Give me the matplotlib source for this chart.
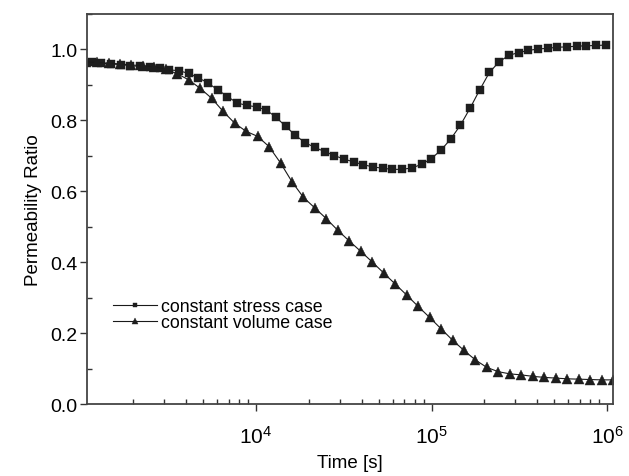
import matplotlib
matplotlib.use("Agg")
import matplotlib.pyplot as plt
from matplotlib.ticker import LogLocator, MultipleLocator, NullFormatter

plt.rcParams['font.family'] = ['Liberation Sans', 'DejaVu Sans']
plt.rcParams['mathtext.fontset'] = 'custom'
plt.rcParams['mathtext.rm'] = 'Liberation Sans'
plt.rcParams['mathtext.default'] = 'regular'

# constant stress case
stress_time = [1159, 1316, 1495, 1698, 1928, 2190, 2487, 2824, 3207, 3642,
               4137, 4698, 5335, 6059, 6881, 7815, 8875, 10079, 11447, 13000,
               14763, 16766, 19041, 21624, 24558, 27890, 31673, 35971, 40851, 46393,
               52687, 59835, 67953, 77172, 87642, 99532, 113035, 128370, 145786, 165565,
               188027, 213537, 242507, 275408, 312773, 355207, 403398, 458127, 520281, 590867,
               671030, 762068, 865457, 982874]
stress_ratio = [0.962, 0.960, 0.958, 0.956, 0.953, 0.951, 0.950, 0.946, 0.941, 0.939,
                0.931, 0.919, 0.904, 0.885, 0.866, 0.848, 0.841, 0.837, 0.828, 0.808,
                0.782, 0.757, 0.736, 0.723, 0.711, 0.700, 0.690, 0.682, 0.674, 0.668,
                0.664, 0.661, 0.661, 0.665, 0.675, 0.691, 0.715, 0.746, 0.785, 0.833,
                0.885, 0.934, 0.964, 0.982, 0.990, 0.996, 1.000, 1.002, 1.005, 1.006,
                1.008, 1.009, 1.010, 1.011]

# constant volume case
volume_time = [1071, 1244, 1446, 1681, 1953, 2271, 2638, 3067, 3565, 4143,
               4815, 5597, 6505, 7561, 8787, 10212, 11870, 13796, 16032, 18634,
               21658, 25170, 29256, 34003, 39521, 45933, 53386, 62050, 72111, 83813,
               97409, 113220, 131582, 152932, 177746, 206582, 240105, 279062, 324340, 376968,
               438126, 509215, 591831, 687864, 799465, 929195, 1079954]
volume_ratio = [0.964, 0.962, 0.960, 0.958, 0.955, 0.953, 0.950, 0.943, 0.930, 0.913,
                0.889, 0.861, 0.824, 0.791, 0.768, 0.754, 0.725, 0.679, 0.626, 0.582,
                0.552, 0.522, 0.489, 0.459, 0.430, 0.400, 0.369, 0.338, 0.307, 0.275,
                0.244, 0.212, 0.180, 0.151, 0.124, 0.103, 0.091, 0.085, 0.082, 0.078,
                0.075, 0.073, 0.071, 0.070, 0.069, 0.068, 0.068]

labels = ['constant stress case', 'constant volume case']
xticks = [1e4, 1e5, 1e6]
xticklabels = [r'$10^4$', r'$10^5$', r'$10^6$']
yticks = [0.0, 0.2, 0.4, 0.6, 0.8, 1.0]

fig = plt.figure(figsize=(6.29, 4.77), dpi=100)
ax = fig.add_axes([0.1383, 0.1509, 0.8363, 0.8187])

mc = '#1e1e1e'
ax.plot(stress_time, stress_ratio, color='#1a1a1a', lw=0.8, marker='s', ms=5.6,
        mfc=mc, mec=mc, mew=0.3, label=labels[0])
ax.plot(volume_time, volume_ratio, color='#1a1a1a', lw=0.8, marker='^', ms=7.2,
        mfc=mc, mec=mc, mew=0.3, label=labels[1])

ax.set_xscale('log')
ax.set_xlim(1.09e3, 1.08e6)
ax.set_ylim(0, 1.1)

ax.set_xticks(xticks)
ax.set_xticklabels(xticklabels)
ax.xaxis.set_minor_locator(LogLocator(base=10, subs=range(2, 10)))
ax.xaxis.set_minor_formatter(NullFormatter())
ax.set_yticks(yticks)
ax.set_yticklabels([f'{v:.1f}' for v in yticks])
ax.yaxis.set_minor_locator(MultipleLocator(0.1))

ax.tick_params(which='major', direction='out', length=5, width=1.0, color='#333333',
               labelsize=14, pad=2)
ax.tick_params(which='minor', direction='in', length=3.5, width=1.0, color='#333333')
ax.tick_params(axis='x', which='major', labelsize=15, pad=10)
for s in ax.spines.values():
    s.set_color('#444444')
    s.set_linewidth(1.3)

ax.set_xlabel('Time [s]', fontsize=13.5, labelpad=5)
ax.set_ylabel('Permeability Ratio', fontsize=13.5, labelpad=6)

leg = ax.legend(loc='upper left', bbox_to_anchor=(0.025, 0.303), frameon=False,
                fontsize=12.8, markerscale=0.55, handlelength=2.5, handletextpad=0.25,
                labelspacing=-0.05, borderaxespad=0.3)

fig.savefig('out.png', dpi=100)
